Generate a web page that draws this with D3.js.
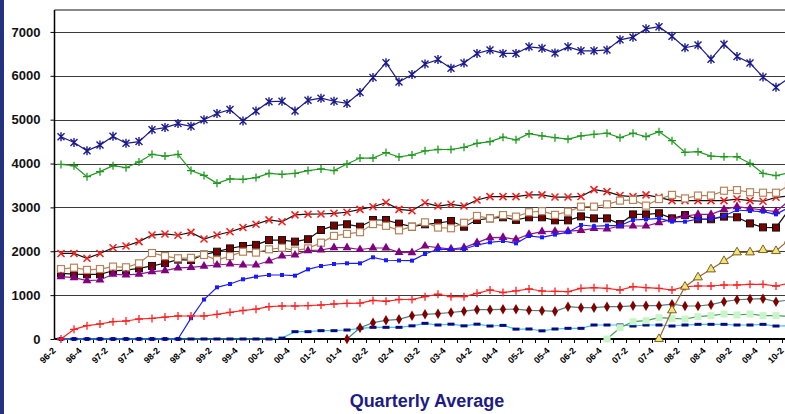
<!DOCTYPE html>
<html>
<head>
<meta charset="utf-8">
<script src="https://cdn.jsdelivr.net/npm/d3@7"></script>
<style>
  body { margin: 0; background: #fff; }
  svg { display: block; font-family: Arial, "Liberation Sans", sans-serif; }
</style>
</head>
<body>
<svg id="chart" width="785" height="414"></svg>
<script>
// Quarter categories, 1996 Q2 to 2010 Q2
const quarters = [
  "96-2","96-3","96-4",
  "97-1","97-2","97-3","97-4",
  "98-1","98-2","98-3","98-4",
  "99-1","99-2","99-3","99-4",
  "00-1","00-2","00-3","00-4",
  "01-1","01-2","01-3","01-4",
  "02-1","02-2","02-3","02-4",
  "03-1","03-2","03-3","03-4",
  "04-1","04-2","04-3","04-4",
  "05-1","05-2","05-3","05-4",
  "06-1","06-2","06-3","06-4",
  "07-1","07-2","07-3","07-4",
  "08-1","08-2","08-3","08-4",
  "09-1","09-2","09-3","09-4",
  "10-1","10-2"
];

const yTicks = [0, 1000, 2000, 3000, 4000, 5000, 6000, 7000];
const yMax = 7500;

// Series that begin part-way through the period are padded with empty quarters
const lead = (n, vals) => new Array(n).fill(null).concat(vals);

const navyStar = [4610,4480,4290,4420,4620,4460,4500,4770,4820,4910,
  4850,5000,5140,5230,4970,5200,5410,5420,5200,5440,
  5490,5420,5370,5620,5960,6300,5860,6030,6270,6370,
  6170,6290,6510,6590,6510,6510,6660,6630,6520,6660,
  6570,6570,6590,6820,6880,7070,7120,6900,6640,6700,
  6380,6720,6440,6290,5970,5740,5950];

const greenPlus = [3980,3950,3700,3815,3950,3905,4035,4210,4170,4210,
  3840,3730,3550,3650,3640,3680,3775,3755,3775,3840,
  3875,3840,3990,4125,4125,4250,4150,4195,4290,4320,
  4320,4370,4460,4500,4600,4540,4680,4630,4590,4555,
  4630,4665,4690,4590,4690,4615,4725,4520,4255,4270,
  4170,4155,4155,4005,3775,3725,3790];

const redCross = [1950,1950,1840,1950,2080,2120,2220,2370,2395,2365,
  2430,2280,2370,2445,2540,2615,2715,2675,2830,2845,
  2850,2865,2890,2955,3015,3110,2955,2925,3105,3030,
  3070,3030,3170,3245,3245,3245,3285,3285,3235,3235,
  3250,3405,3360,3270,3245,3285,3230,3155,3155,3155,
  3155,3155,3190,3155,3140,3230,3260];

const maroonSquare = [1495,1480,1475,1475,1555,1570,1610,1665,1730,1810,
  1800,1925,1990,2065,2120,2145,2255,2255,2220,2275,
  2485,2585,2615,2560,2713,2713,2630,2560,2615,2640,
  2690,2560,2713,2750,2775,2715,2775,2775,2705,2705,
  2795,2750,2750,2620,2840,2840,2865,2750,2825,2730,
  2730,2790,2775,2635,2545,2540,2950];

const tanSquare = [1595,1625,1575,1595,1650,1635,1725,1960,1890,1840,
  1850,1915,1800,1890,1990,1970,2045,2080,2015,2065,
  2195,2350,2395,2435,2620,2580,2478,2560,2660,2540,
  2525,2650,2805,2750,2825,2790,2890,2915,2830,2903,
  3017,3017,3070,3155,3170,3040,3190,3285,3205,3270,
  3270,3380,3395,3345,3335,3335,3500];

const purpleTriangle = [1420,1400,1330,1345,1475,1460,1480,1535,1557,1620,
  1634,1660,1687,1710,1687,1687,1778,1892,1915,2014,
  2029,2082,2082,2040,2075,2075,1975,1968,2120,2082,
  2052,2082,2196,2310,2318,2273,2387,2447,2455,2460,
  2475,2523,2508,2576,2576,2576,2652,2728,2804,2842,
  2842,2956,3017,2979,2941,2903,3150];

const blueSquare = [0,0,0,0,0,0,0,0,0,0,
  475,900,1178,1254,1361,1421,1459,1459,1444,1588,
  1664,1710,1725,1725,1862,1795,1790,1786,1938,2045,
  2045,2052,2143,2204,2234,2181,2348,2318,2380,2435,
  2599,2570,2584,2584,2713,2728,2751,2675,2675,2736,
  2736,2804,2941,2918,2903,2842,3000];

const redPlus = [0,221,304,342,395,410,456,470,500,524,
  524,524,563,608,650,680,737,752,752,760,
  775,798,813,820,880,860,900,900,965,1020,
  965,965,1041,1117,1060,1098,1140,1094,1085,1079,
  1155,1170,1155,1117,1193,1170,1155,1117,1193,1208,
  1208,1231,1231,1246,1246,1208,1270];

const navyDash = [0,0,0,0,0,0,0,0,0,0,
  0,0,0,0,0,0,0,20,167,167,
  190,190,205,243,266,266,266,300,357,319,
  338,300,338,296,310,225,228,186,228,243,
  243,319,319,319,296,319,319,296,319,334,
  334,334,319,319,334,296,300];

const maroonDiamond = lead(22, [0,258,372,425,449,532,563,578,604,635,
  669,669,677,680,654,646,630,737,714,714,
  737,737,756,760,760,794,752,752,782,851,
  895,910,920,851,890]);

const paleGreenSquare = lead(42, [0,258,395,418,486,471,456,509,532,570,547,570,532,532,520]);

const yellowTriangle = lead(46, [0,655,1193,1406,1588,1778,1976,1976,2029,2006,2260]);

// Drawing order and styling of each series
const series = [
  { values: navyStar,        line: "#1a1a8c", marker: "asterisk", color: "#1a1a8c" },
  { values: greenPlus,       line: "#1f9a1f", marker: "plus",     color: "#1f9a1f" },
  { values: redCross,        line: "#111111", marker: "cross",    color: "#ff1a1a" },
  { values: maroonSquare,    line: "#111111", marker: "square",   color: "#7a0000", stroke: "#111" },
  { values: tanSquare,       line: "#b5835a", marker: "hollow",   color: "#b5835a" },
  { values: purpleTriangle,  line: "#8a1a8a", marker: "triangle", color: "#800080" },
  { values: blueSquare,      line: "#1a1aff", marker: "small",    color: "#1a1aff" },
  { values: navyDash,        line: "#33c4f0", marker: "dash",     color: "#0a0a80" },
  { values: redPlus,         line: "#ff2020", marker: "plus",     color: "#ff2020" },
  { values: maroonDiamond,   line: "#4f7f7f", marker: "diamond",  color: "#800000" },
  { values: paleGreenSquare, line: "#4a9a5a", marker: "pale",     color: "#c8f5c8" },
  { values: yellowTriangle,  line: "#9a6630", marker: "triangle", color: "#f2e27a", stroke: "#6a5010" }
];

const svg = d3.select("#chart");
const plotTop = 10, plotBottom = 339, plotLeft = 54.5;

const x = d3.scaleBand().domain(quarters).range([plotLeft, plotLeft + quarters.length * 13]);
const y = d3.scaleLinear().domain([0, yMax]).range([plotBottom, plotTop]);
const cx = q => x(q) + x.bandwidth() / 2;

// Left accent bar
svg.append("rect").attr("x", 0).attr("y", 0).attr("width", 4).attr("height", 414).attr("fill", "#23337f");

// Horizontal gridlines
svg.append("g").selectAll("line").data(yTicks.filter(t => t > 0)).join("line")
  .attr("x1", plotLeft).attr("x2", 785)
  .attr("y1", d => Math.round(y(d)) + 0.5).attr("y2", d => Math.round(y(d)) + 0.5)
  .attr("stroke", "#3a3a3a").attr("stroke-width", 1);
svg.append("line").attr("x1", plotLeft).attr("x2", 785)
  .attr("y1", y(yMax)).attr("y2", y(yMax))
  .attr("stroke", "#888").attr("stroke-width", 2);

// Y axis
const yAxis = svg.append("g").attr("transform", `translate(${plotLeft},0)`)
  .call(d3.axisLeft(y).tickValues(yTicks).tickSize(4).tickPadding(10).tickFormat(d3.format("d")));
yAxis.select(".domain").attr("stroke", "#000").attr("stroke-width", 1.5)
  .attr("d", `M0,${plotTop}V${plotBottom}`);
yAxis.selectAll(".tick line").attr("stroke", "#000");
yAxis.selectAll("text").attr("font-size", 13).attr("font-weight", "bold").attr("fill", "#111")
  .attr("font-family", "Arial, 'Liberation Sans', sans-serif");

// X axis baseline and category boundary ticks
svg.append("line").attr("x1", plotLeft).attr("x2", 785).attr("y1", plotBottom).attr("y2", plotBottom)
  .attr("stroke", "#000").attr("stroke-width", 2);
svg.append("g").selectAll("line").data(quarters).join("line")
  .attr("x1", d => x(d) + x.bandwidth()).attr("x2", d => x(d) + x.bandwidth())
  .attr("y1", plotBottom).attr("y2", plotBottom + 4)
  .attr("stroke", "#000").attr("stroke-width", 1);

// X labels on every other quarter
svg.append("g").selectAll("text").data(quarters.filter((q, i) => i % 2 === 0)).join("text")
  .attr("transform", d => `translate(${cx(d) - 7},${plotBottom + 10}) rotate(-45)`)
  .attr("text-anchor", "end").attr("dy", "0.35em")
  .attr("font-size", 9).attr("font-weight", "bold").attr("fill", "#000")
  .text(d => d);

// Marker shapes
const sym = (type, size) => d3.symbol().type(type).size(size)();
function drawMarker(g, s) {
  const c = s.color;
  switch (s.marker) {
    case "asterisk":
      g.append("path").attr("d", "M-3.5,-3.5L3.5,3.5M-3.5,3.5L3.5,-3.5M0,-4.5V4.5")
        .attr("stroke", c).attr("stroke-width", 1.4).attr("fill", "none");
      break;
    case "plus":
      g.append("path").attr("d", "M-4,0H4M0,-4V4")
        .attr("stroke", c).attr("stroke-width", 1.3).attr("fill", "none");
      break;
    case "cross":
      g.append("path").attr("d", "M-3.5,-3.5L3.5,3.5M-3.5,3.5L3.5,-3.5")
        .attr("stroke", c).attr("stroke-width", 1.5).attr("fill", "none");
      break;
    case "square":
      g.append("rect").attr("x", -3.5).attr("y", -3.5).attr("width", 7).attr("height", 7)
        .attr("fill", c).attr("stroke", s.stroke).attr("stroke-width", 1);
      break;
    case "hollow":
      g.append("rect").attr("x", -3.5).attr("y", -3.5).attr("width", 7).attr("height", 7)
        .attr("fill", "#fff").attr("stroke", c).attr("stroke-width", 1.2);
      break;
    case "triangle":
      g.append("path").attr("d", sym(d3.symbolTriangle, 34))
        .attr("fill", c).attr("stroke", s.stroke || "none").attr("stroke-width", 0.9);
      break;
    case "small":
      g.append("rect").attr("x", -2).attr("y", -2).attr("width", 4).attr("height", 4).attr("fill", c);
      break;
    case "dash":
      g.append("rect").attr("x", -3.5).attr("y", -1.5).attr("width", 7).attr("height", 3).attr("fill", c);
      break;
    case "diamond":
      g.append("path").attr("d", sym(d3.symbolDiamond, 32)).attr("fill", c);
      break;
    case "pale":
      g.append("rect").attr("x", -3.5).attr("y", -3.5).attr("width", 7).attr("height", 7).attr("fill", c);
      break;
  }
}

const lineGen = d3.line()
  .defined(d => d.v != null)
  .x(d => cx(d.q))
  .y(d => y(d.v));

series.forEach(s => {
  const pts = s.values.map((v, i) => ({ q: quarters[i], v }));
  const g = svg.append("g");
  g.append("path").datum(pts).attr("d", lineGen)
    .attr("fill", "none").attr("stroke", s.line).attr("stroke-width", 1.2);
  g.selectAll("g").data(pts.filter(p => p.v != null)).join("g")
    .attr("transform", p => `translate(${cx(p.q)},${y(p.v)})`)
    .each(function () { drawMarker(d3.select(this), s); });
});

// Chart caption
svg.append("text").attr("x", 427).attr("y", 407).attr("text-anchor", "middle")
  .attr("font-size", 18).attr("font-weight", "bold").attr("fill", "#1c1c86")
  .text("Quarterly Average");
</script>
</body>
</html>
